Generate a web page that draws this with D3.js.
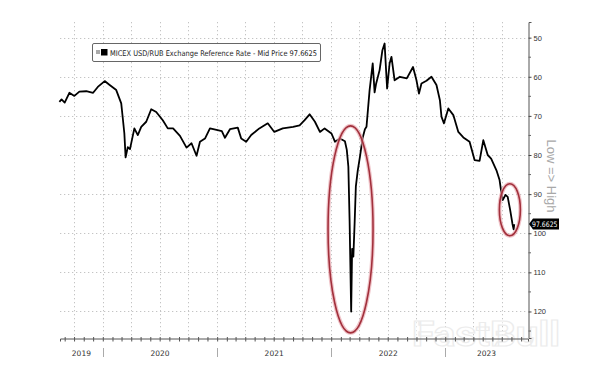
<!DOCTYPE html>
<html>
<head>
<meta charset="utf-8">
<script src="https://cdn.jsdelivr.net/npm/d3@7"></script>
<style>
  body { margin: 0; background: #fff; }
  svg { display: block; font-family: "DejaVu Sans", "Liberation Sans", sans-serif; }
</style>
</head>
<body>
<svg id="chart" width="595" height="373"></svg>
<script>
// USD/RUB reference rate
var dates = ["2019-08-15","2019-08-22","2019-09-01","2019-09-16","2019-10-02","2019-10-18","2019-11-09","2019-12-01","2019-12-16",
  "2020-01-07","2020-01-23","2020-02-13","2020-02-29","2020-03-05","2020-03-10","2020-03-14","2020-03-21","2020-03-28","2020-04-11",
  "2020-04-22","2020-05-03","2020-05-19","2020-06-04","2020-06-20","2020-07-11","2020-07-27","2020-08-13","2020-09-04","2020-09-25",
  "2020-10-11","2020-10-27","2020-11-07","2020-11-23","2020-12-09","2020-12-30",
  "2021-01-16","2021-01-26","2021-02-11","2021-03-08","2021-03-19","2021-04-04","2021-04-20","2021-05-16","2021-06-12","2021-07-03",
  "2021-07-30","2021-09-01","2021-09-22","2021-10-08","2021-10-24","2021-11-10","2021-11-26","2021-12-11",
  "2022-01-02","2022-01-13","2022-01-29","2022-02-14","2022-02-20","2022-02-25","2022-03-01","2022-03-06","2022-03-09","2022-03-13",
  "2022-03-17","2022-03-21","2022-03-27","2022-04-03","2022-04-12","2022-04-19","2022-04-24","2022-05-04","2022-05-14","2022-05-20",
  "2022-05-25","2022-06-05","2022-06-14","2022-06-21","2022-06-29","2022-07-07","2022-07-13","2022-07-23","2022-08-09","2022-08-31",
  "2022-09-20","2022-10-01","2022-10-09","2022-10-17","2022-11-02","2022-11-18","2022-12-04","2022-12-15","2022-12-20","2022-12-28",
  "2023-01-11","2023-01-27","2023-02-12","2023-02-28","2023-03-20","2023-04-05","2023-04-21","2023-05-03","2023-05-17","2023-05-28",
  "2023-06-14","2023-06-24","2023-06-30","2023-07-04","2023-07-13","2023-07-20","2023-07-28","2023-08-04","2023-08-08","2023-08-10"];
var usdrub = [66.4,65.8,66.6,64.1,64.9,63.8,63.7,64.1,62.6,
  61.1,62.1,63.4,66.8,70.6,74.5,80.6,78.0,78.5,73.2,
  74.9,72.8,71.5,68.3,69.0,71.1,73.2,73.2,75.1,78.1,
  77.0,80.2,76.6,75.8,73.2,73.6,
  73.9,75.6,73.4,73.0,75.8,76.6,74.9,73.2,71.9,74.1,
  73.2,72.8,72.4,71.1,69.6,71.5,74.1,73.2,
  74.5,76.6,75.8,76.5,78.7,83.0,97.0,120.0,104.0,106.0,
  97.5,88.0,84.0,80.5,75.5,73.4,72.8,63.4,56.6,64.0,
  61.7,58.3,53.2,51.5,63.0,56.6,54.9,60.9,60.0,60.4,
  57.5,60.9,64.3,61.7,61.0,60.0,62.1,66.0,70.2,71.9,
  68.1,69.8,74.1,75.5,76.6,81.3,81.5,76.2,80.0,80.9,
  83.9,86.4,89.8,91.5,90.2,90.7,94.1,97.5,99.0,97.6625];

var yTicks = [50, 60, 70, 80, 90, 100, 110, 120];
var years = [2019, 2020, 2021, 2022, 2023];
var lastPrice = "97.6625";
var seriesName = "MICEX USD/RUB Exchange Reference Rate - Mid Price " + lastPrice;

// circled spots: [date, value, rx, ry]
var circles = [["2022-03-04", 99, 22.5, 103.5], ["2023-07-27", 94, 10.5, 26]];

var parse = d3.timeParse("%Y-%m-%d");
var data = dates.map(function(d, i){ return { date: parse(d), v: usdrub[i] }; });

var plotL = 60, plotR = 528, plotT = 22, plotB = 338;
var svg = d3.select("#chart");

var x = d3.scaleTime()
    .domain([parse("2019-08-17"), parse("2023-09-23")])
    .range([plotL, plotR]);
var y = d3.scaleLinear()
    .domain([46, 126.78])
    .range([plotT, plotB]);

// grid
var grid = svg.append("g").attr("stroke", "#c4c4c4").attr("stroke-dasharray", "1.3,2.7").attr("stroke-width", 1);
grid.selectAll(".hg").data(yTicks).enter().append("line")
    .attr("x1", plotL).attr("x2", plotR)
    .attr("y1", function(d){ return Math.round(y(d)) + 0.5; })
    .attr("y2", function(d){ return Math.round(y(d)) + 0.5; });
var quarters = d3.timeMonth.every(3).range(x.domain()[0], x.domain()[1]);
grid.selectAll(".vg").data(quarters).enter().append("line")
    .attr("y1", plotT).attr("y2", plotB)
    .attr("x1", function(d){ return Math.round(x(d)) + 0.5; })
    .attr("x2", function(d){ return Math.round(x(d)) + 0.5; });

// watermark
svg.append("text")
    .attr("x", 486).attr("y", 346)
    .attr("text-anchor", "middle")
    .attr("font-size", 35).attr("font-weight", "bold")
    .attr("font-family", "Roboto, sans-serif")
    .attr("textLength", 148).attr("lengthAdjust", "spacingAndGlyphs")
    .attr("fill", "#fff").attr("fill-opacity", 0.55)
    .attr("stroke", "#ececec").attr("stroke-width", 1.2)
    .text("FastBull");

// right axis
var yAxis = d3.axisRight(y).tickValues(yTicks).tickSize(3).tickPadding(2);
var ya = svg.append("g").attr("transform", "translate(" + (plotR + 0.5) + ",0)").call(yAxis);
ya.select(".domain").attr("stroke", "#555");
ya.selectAll(".tick line").attr("stroke", "#444");
ya.selectAll("text").attr("font-size", 7.5).attr("fill", "#333");
var minor = d3.range(55, 126, 10);
ya.selectAll(".mn").data(minor).enter().append("line")
    .attr("x1", 0).attr("x2", 2.5)
    .attr("y1", function(d){ return y(d); }).attr("y2", function(d){ return y(d); })
    .attr("stroke", "#666");

// bottom axis
var xAxis = d3.axisBottom(x).ticks(d3.timeMonth.every(1)).tickSize(3).tickFormat("");
var xa = svg.append("g").attr("transform", "translate(0," + (plotB + 0.5) + ")").call(xAxis);
xa.select(".domain").attr("stroke", "#555");
xa.selectAll(".tick line").attr("stroke", "#555").attr("y1", -1.5);

// year separators and labels
var yearStarts = years.slice(1).map(function(yr){ return new Date(yr, 0, 1); });
svg.selectAll(".sep").data(yearStarts).enter().append("line")
    .attr("x1", function(d){ return Math.round(x(d)) + 0.5; })
    .attr("x2", function(d){ return Math.round(x(d)) + 0.5; })
    .attr("y1", 348).attr("y2", 357)
    .attr("stroke", "#aaa");
svg.selectAll(".yl").data(years).enter().append("text")
    .attr("x", function(yr){
        var a = Math.max(x(new Date(yr, 0, 1)), plotL);
        var b = Math.min(x(new Date(yr + 1, 0, 1)), plotR);
        return (a + b) / 2;
    })
    .attr("y", 356)
    .attr("text-anchor", "middle")
    .attr("font-size", 7.5)
    .attr("fill", "#333")
    .text(function(yr){ return yr; });

// line
var line = d3.line()
    .x(function(d){ return x(d.date); })
    .y(function(d){ return y(d.v); });
svg.append("path")
    .datum(data)
    .attr("d", line)
    .attr("fill", "none")
    .attr("stroke", "#000")
    .attr("stroke-width", 1.8)
    .attr("stroke-linejoin", "round");

// red circles
circles.forEach(function(c){
    var cx = x(parse(c[0])), cy = y(c[1]);
    svg.append("ellipse").attr("cx", cx).attr("cy", cy).attr("rx", c[2]).attr("ry", c[3])
        .attr("fill", "none").attr("stroke", "#e8a9b0").attr("stroke-width", 4).attr("opacity", 0.7);
    svg.append("ellipse").attr("cx", cx).attr("cy", cy).attr("rx", c[2]).attr("ry", c[3])
        .attr("fill", "none").attr("stroke", "#a2303c").attr("stroke-width", 1.6);
});

// legend
var lg = svg.append("g");
lg.append("rect").attr("x", 92.5).attr("y", 43.5).attr("width", 228).attr("height", 18)
    .attr("rx", 1.5).attr("fill", "#fff").attr("stroke", "#666");
lg.append("rect").attr("x", 96).attr("y", 50).attr("width", 4).attr("height", 4).attr("fill", "#aaa");
lg.append("rect").attr("x", 101).attr("y", 49).attr("width", 6.5).attr("height", 6.5).attr("fill", "#000");
lg.append("text").attr("x", 110).attr("y", 55.5)
    .attr("font-size", 7.8).attr("fill", "#222")
    .attr("textLength", 207).attr("lengthAdjust", "spacingAndGlyphs")
    .text(seriesName);

// "Low => High"
svg.append("text")
    .attr("transform", "translate(547,176) rotate(90)")
    .attr("text-anchor", "middle")
    .attr("font-size", 13).attr("fill", "#a8a8a8")
    .attr("font-family", "Liberation Sans, sans-serif")
    .text("Low => High");

// last price tag
var ly = y(+lastPrice);
svg.append("path")
    .attr("d", "M" + (plotR + 1) + "," + ly + "L" + (plotR + 5) + "," + (ly - 5.5) + "H559V" + (ly + 5.5) + "H" + (plotR + 5) + "Z")
    .attr("fill", "#000");
svg.append("text").attr("x", 532).attr("y", ly + 2.8)
    .attr("font-size", 7.5).attr("fill", "#fff")
    .attr("textLength", 25.5).attr("lengthAdjust", "spacingAndGlyphs")
    .text(lastPrice);
</script>
</body>
</html>
